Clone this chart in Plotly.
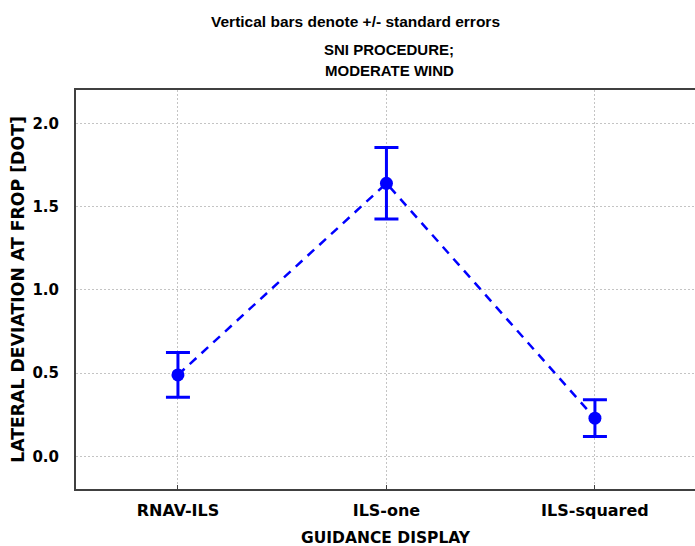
import plotly.graph_objects as go

# Guidance display conditions and mean lateral deviation with standard errors
displays = ["RNAV-ILS", "ILS-one", "ILS-squared"]
mean_dev = [0.49, 1.64, 0.23]
std_err = [0.135, 0.215, 0.11]

y_ticks = [0.0, 0.5, 1.0, 1.5, 2.0]

BLUE = "#0000ff"
AXFONT = "DejaVu Sans"
TFONT = "Liberation Sans Narrow, Liberation Sans"

W, H = 695, 546
L, R, T, B = 76, 0, 90, 57
plot_w = W - L - R
plot_h = H - T - B


def px_to_paper(px, py):
    """Convert a pixel position on the page to paper coordinates."""
    return (px - L) / plot_w, 1 + (T - py) / plot_h


fig = go.Figure()
fig.add_trace(go.Scatter(
    x=list(range(len(displays))),
    y=mean_dev,
    mode="lines+markers",
    line=dict(color=BLUE, width=2.5, dash="9px,7px"),
    marker=dict(color=BLUE, size=13, symbol="circle"),
    error_y=dict(type="data", array=std_err, visible=True,
                 color=BLUE, thickness=3, width=12),
    showlegend=False,
))

annotations = []
for text, (px, py), size in [
    ("Vertical bars denote +/- standard errors", (355, 21), 15.5),
    ("SNI PROCEDURE;", (389, 49), 15),
    ("MODERATE WIND", (389, 70), 15),
]:
    ax, ay = px_to_paper(px, py)
    annotations.append(dict(text="<b>%s</b>" % text, x=ax, y=ay,
                            xref="paper", yref="paper", showarrow=False,
                            xanchor="center", yanchor="middle",
                            font=dict(size=size, family=TFONT)))

gx, gy = px_to_paper(386, 538)
annotations.append(dict(text="<b>GUIDANCE DISPLAY</b>", x=gx, y=gy,
                        xref="paper", yref="paper", showarrow=False,
                        xanchor="center", yanchor="middle",
                        font=dict(size=15.5, family=AXFONT)))

fig.update_layout(
    width=W, height=H,
    margin=dict(l=L, r=R, t=T, b=B),
    paper_bgcolor="white",
    plot_bgcolor="white",
    font=dict(family=AXFONT, color="black"),
    annotations=annotations,
)

fig.update_xaxes(
    tickmode="array",
    tickvals=list(range(len(displays))),
    ticktext=["<b>%s</b>" % d for d in displays],
    range=[-0.489, 2.48],
    showgrid=True, gridcolor="#c4c4c4", griddash="2px,2px", gridwidth=1,
    showline=True, linecolor="#404040", linewidth=2, mirror=True,
    ticks="inside", ticklen=4, tickcolor="#404040",
    ticklabelstandoff=6,
    tickfont=dict(size=16, family=AXFONT),
    zeroline=False,
)
fig.update_yaxes(
    tickmode="array",
    tickvals=y_ticks,
    ticktext=["<b>%.1f</b>" % v for v in y_ticks],
    range=[-0.195, 2.2],
    showgrid=True, gridcolor="#c4c4c4", griddash="2px,2px", gridwidth=1,
    showline=True, linecolor="#404040", linewidth=2, mirror=False,
    ticks="", ticklabelstandoff=12,
    tickfont=dict(size=15, family=AXFONT),
    title=dict(text="<b>LATERAL DEVIATION AT FROP [DOT]</b>",
               font=dict(size=17.3, family=AXFONT), standoff=3),
    zeroline=False,
)

fig.write_html("out.html")
